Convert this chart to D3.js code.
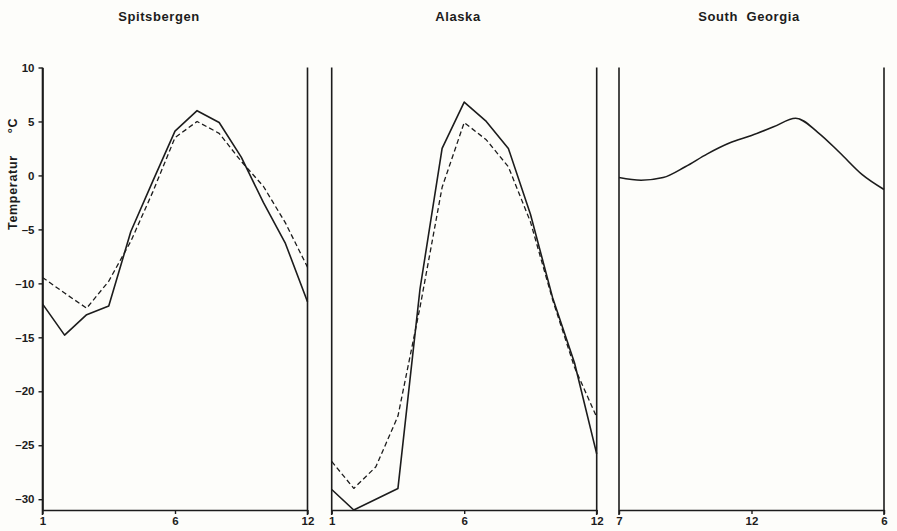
<!DOCTYPE html>
<html>
<head>
<meta charset="utf-8">
<script src="https://cdn.jsdelivr.net/npm/d3@7"></script>
<style>
  html, body { margin: 0; padding: 0; background: #fdfdfa; }
  svg { display: block; }
</style>
</head>
<body>
<svg id="chart" width="897" height="531"></svg>
<script>
// ---------------- DATA ----------------
const monthIndex = [0, 1, 2, 3, 4, 5, 6, 7, 8, 9, 10, 11, 12];

const spitsbergenSolid  = [-11.9, -14.8, -12.9, -12.1, -5.2, -0.5, 4.1, 6.0, 4.9, 1.7, -2.5, -6.3, -11.7];
const spitsbergenDashed = [-9.45, -10.9, -12.3, -9.8, -6.1, -1.5, 3.5, 5.0, 3.9, 1.3, -1.0, -4.4, -8.5];

const alaskaSolid  = [-29.1, -31.0, -30.0, -29.0, -10.5, 2.5, 6.8, 5.0, 2.5, -3.6, -11.3, -17.4, -25.8];
const alaskaDashed = [-26.5, -29.0, -27.0, -22.3, -12.2, -1.1, 4.9, 3.3, 0.8, -4.3, -11.5, -17.8, -22.4];

const southGeorgiaSolid = [-0.2, -0.45, -0.2, 0.8, 2.0, 3.0, 3.7, 4.5, 5.3, 4.0, 2.1, 0.1, -1.3];

const panelTitles = ["Spitsbergen", "Alaska", "South  Georgia"];
const xTickValues = [0, 6, 12];
const xTickLabelsNorth = ["1", "6", "12"];
const xTickLabelsSouth = ["7", "12", "6"];
const yTickValues = [10, 5, 0, -5, -10, -15, -20, -25, -30];
const yAxisLabel = "Temperatur";
const yAxisUnit = "°C";

// ---------------- LAYOUT ----------------
const svg = d3.select("#chart");
const ink = "#1c1c1c";
const panelLefts = [42.5, 331.7, 619];
const panelWidth = 265;
const titleX = [159, 458, 749];
const yTop = 67.5, yBottom = 510;

const y = d3.scaleLinear().domain([-31, 10]).range([yBottom, yTop]);

const panels = [
  { title: panelTitles[0], labels: xTickLabelsNorth, series: [{ v: spitsbergenSolid, dash: null }, { v: spitsbergenDashed, dash: "5,3" }], curve: d3.curveLinear },
  { title: panelTitles[1], labels: xTickLabelsNorth, series: [{ v: alaskaSolid, dash: null }, { v: alaskaDashed, dash: "5,3" }], curve: d3.curveLinear },
  { title: panelTitles[2], labels: xTickLabelsSouth, series: [{ v: southGeorgiaSolid, dash: null }], curve: d3.curveMonotoneX }
];

const fontFam = "'Liberation Sans', Arial, sans-serif";

panels.forEach((p, pi) => {
  const left = panelLefts[pi];
  const x = d3.scaleLinear().domain([0, 12]).range([left, left + panelWidth]);
  const g = svg.append("g");

  // title
  g.append("text")
    .attr("x", titleX[pi]).attr("y", 21)
    .attr("text-anchor", "middle")
    .style("white-space", "pre")
    .attr("font-family", fontFam).attr("font-weight", "bold")
    .attr("font-size", 13).attr("letter-spacing", 0.6)
    .attr("fill", ink)
    .text(p.title);

  // vertical frame lines
  [0, 12].forEach(d => {
    g.append("line")
      .attr("x1", x(d)).attr("x2", x(d))
      .attr("y1", y(10)).attr("y2", yBottom + 5)
      .attr("stroke", ink).attr("stroke-width", 1.6);
  });

  // bottom axis
  const xAxis = d3.axisBottom(x)
    .tickValues(xTickValues)
    .tickFormat((d, i) => p.labels[i])
    .tickSize(4).tickSizeOuter(0).tickPadding(3);
  const ax = g.append("g").attr("transform", `translate(0,${yBottom})`).call(xAxis);
  ax.select(".domain").attr("stroke", ink).attr("stroke-width", 1.6);
  ax.selectAll(".tick line").attr("stroke", ink).attr("stroke-width", 1.4);
  ax.selectAll(".tick text")
    .attr("font-family", fontFam).attr("font-weight", "bold")
    .attr("font-size", 11.5).attr("fill", ink);

  // series
  p.series.forEach(s => {
    const line = d3.line()
      .x((d, i) => x(monthIndex[i]))
      .y(d => y(d))
      .curve(p.curve);
    g.append("path")
      .datum(s.v)
      .attr("d", line)
      .attr("fill", "none")
      .attr("stroke", ink)
      .attr("stroke-width", s.dash ? 1.3 : 1.6)
      .attr("stroke-linejoin", "round")
      .attr("stroke-dasharray", s.dash);
  });
});

// y axis on first panel
const yAxis = d3.axisLeft(y)
  .tickValues(yTickValues)
  .tickFormat(d => d < 0 ? "\u2013" + Math.abs(d) : String(d))
  .tickSize(4).tickSizeOuter(0).tickPadding(4);
const yg = svg.append("g").attr("transform", `translate(${panelLefts[0]},0)`).call(yAxis);
yg.select(".domain").attr("stroke", ink).attr("stroke-width", 1.6);
yg.selectAll(".tick line").attr("stroke", ink).attr("stroke-width", 1.4);
yg.selectAll(".tick text")
  .attr("font-family", fontFam).attr("font-weight", "bold")
  .attr("font-size", 11.5).attr("fill", ink);

// y axis label
const yl = svg.append("text")
  .attr("transform", "translate(17,230) rotate(-90)")
  .attr("font-family", fontFam).attr("font-weight", "bold")
  .attr("font-size", 12.5).attr("letter-spacing", 0.7)
  .attr("fill", ink);
yl.append("tspan").text(yAxisLabel);
yl.append("tspan").attr("dx", 22).text(yAxisUnit);
</script>
</body>
</html>
